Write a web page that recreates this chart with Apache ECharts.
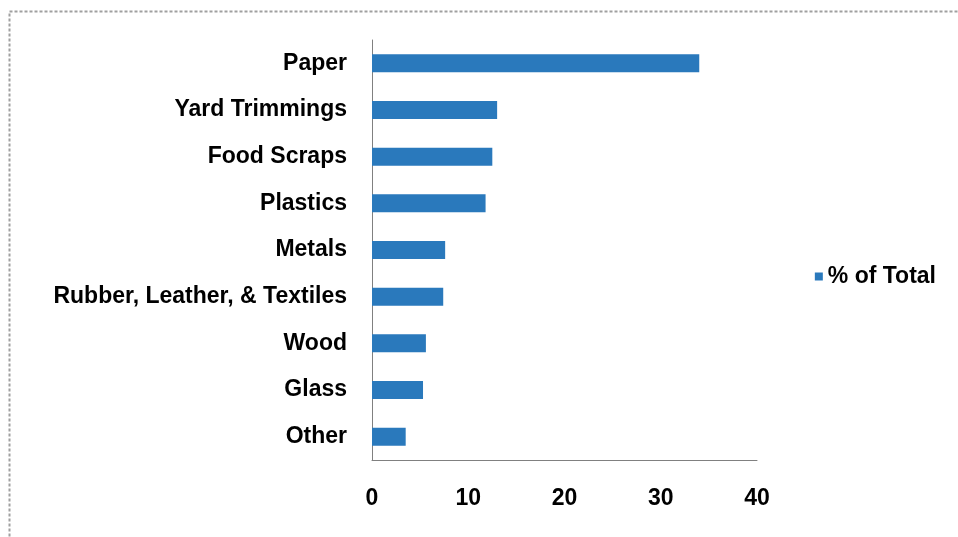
<!DOCTYPE html>
<html>
<head>
<meta charset="utf-8">
<script src="https://cdn.jsdelivr.net/npm/echarts@6/dist/echarts.min.js"></script>
<style>html,body{margin:0;padding:0;background:#fff;}#c{width:958px;height:537px;}</style>
</head>
<body>
<div id="c"></div>
<script>
const categories = ['Paper','Yard Trimmings','Food Scraps','Plastics','Metals','Rubber, Leather, & Textiles','Wood','Glass','Other'];
const values = [34.0, 13.0, 12.5, 11.8, 7.6, 7.4, 5.6, 5.3, 3.5];
const seriesName = '% of Total';
const xTicks = [0, 10, 20, 30, 40];

const chart = echarts.init(document.getElementById('c'));
const font = 'Liberation Sans, Arial, sans-serif';
chart.setOption({
  animation: false,
  backgroundColor: '#fff',
  graphic: [{
    type: 'rect',
    shape: { x: 9.5, y: 11.5, width: 1000, height: 600 },
    style: { fill: 'none', stroke: '#a0a0a0', lineWidth: 2, lineDash: [3, 2] },
    silent: true, z: -1
  }],
  legend: {
    data: [seriesName],
    right: 17, top: 260,
    itemWidth: 8, itemHeight: 8, itemGap: 4,
    textStyle: { fontFamily: font, fontWeight: 'bold', fontSize: 23, color: '#000' },
    icon: 'rect'
  },
  grid: { left: 372, right: 201, top: 40, bottom: 77, containLabel: false },
  xAxis: {
    type: 'value', min: xTicks[0], max: xTicks[xTicks.length - 1], interval: 10,
    axisLine: { show: true, lineStyle: { color: '#808080', width: 1 } },
    axisTick: { show: false },
    splitLine: { show: false },
    axisLabel: { margin: 27, fontFamily: font, fontWeight: 'bold', fontSize: 23, color: '#000' }
  },
  yAxis: {
    type: 'category', inverse: true, data: categories,
    axisLine: { show: true, lineStyle: { color: '#808080', width: 1 } },
    axisTick: { show: false },
    axisLabel: { margin: 25, fontFamily: font, fontWeight: 'bold', fontSize: 23, color: '#000' }
  },
  series: [{
    name: seriesName, type: 'bar', data: values,
    barWidth: 18,
    itemStyle: { color: '#2a79bc' }
  }]
});
</script>
</body>
</html>
